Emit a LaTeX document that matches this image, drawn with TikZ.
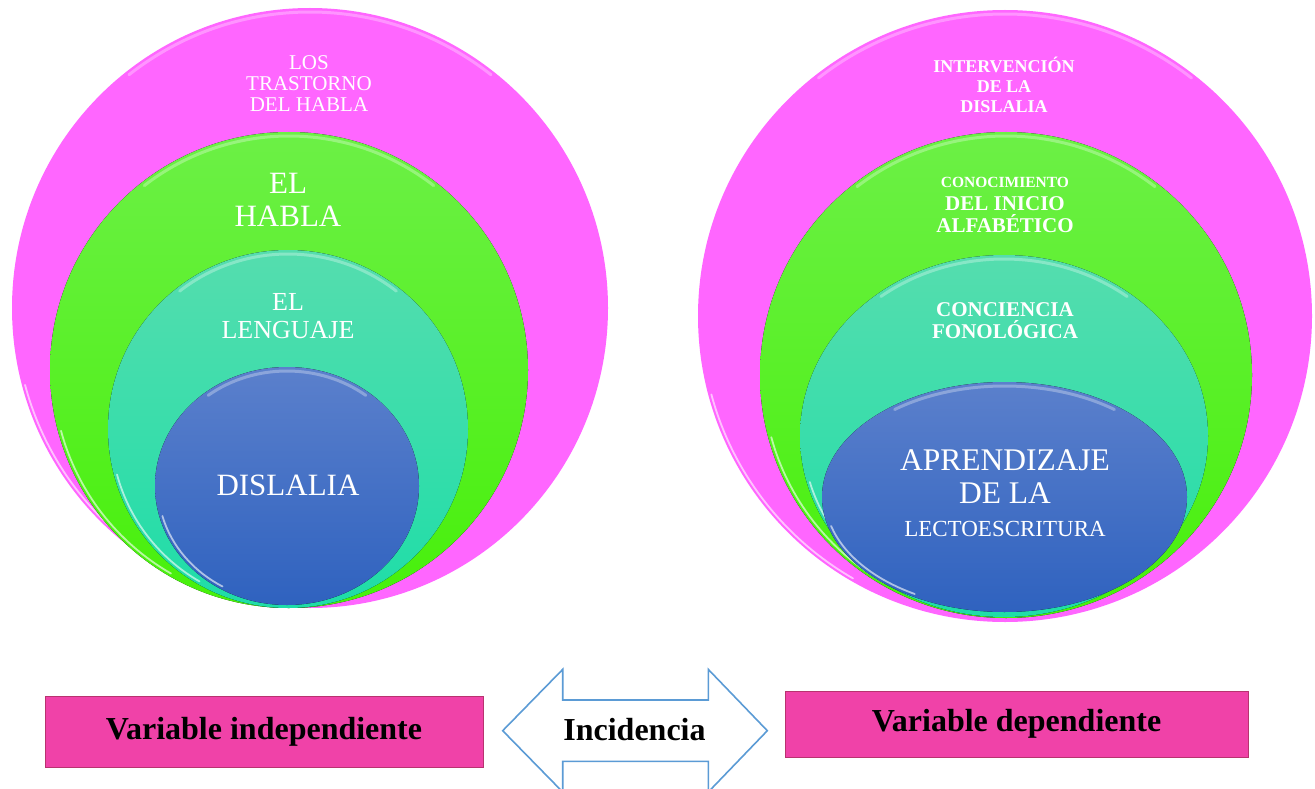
\documentclass[tikz,border=0pt]{standalone}
\usepackage{fontspec}
\setmainfont{Liberation Serif}
\usetikzlibrary{calc}
\definecolor{pinkO}{HTML}{FF66FF}
\definecolor{greenTop}{HTML}{6CF046}
\definecolor{greenBot}{HTML}{47F00A}
\definecolor{tealTop}{HTML}{55DDAE}
\definecolor{tealBot}{HTML}{1EDDA8}
\definecolor{blueTop}{HTML}{5B80CC}
\definecolor{blueBot}{HTML}{2F62BF}
\definecolor{boxFill}{HTML}{F042A8}
\definecolor{boxLine}{HTML}{B8336F}
\definecolor{arrowLine}{HTML}{5B9BD5}
\tikzset{
  pinkDisk/.style={fill=pinkO},
  greenDisk/.style={top color=greenTop, bottom color=greenBot},
  tealDisk/.style={top color=tealTop, bottom color=tealBot},
  blueDisk/.style={top color=blueTop, bottom color=blueBot},
  gloss/.style={draw=white, line width=3pt, line cap=round, opacity=0.3},
  rim/.style={draw=white, line width=1.8pt, line cap=round, opacity=0.6},
  ringLbl/.style={text=white, align=center, inner sep=0pt, anchor=base},
  varBox/.style={draw=boxLine, line width=0.8pt, fill=boxFill, inner sep=0pt,
    font=\bfseries\fontsize{32}{34}\selectfont},
  arrowShape/.style={draw=arrowLine, line width=1.6pt, fill=white, line join=miter},
}
% sheen on top and light rim at lower left of one disk
\newcommand{\Sheen}[4]{%
  \draw[gloss] ({#1+(#3-4)*cos(232)},{#2+(#4-4)*sin(232)})
    arc[start angle=232, end angle=308, x radius=#3-4, y radius=#4-4];
  \draw[rim] ({#1+(#3-3)*cos(120)},{#2+(#4-3)*sin(120)})
    arc[start angle=120, end angle=165, x radius=#3-3, y radius=#4-3];
}

\begin{document}
\begin{tikzpicture}[x=1pt, y=-1pt]
  \clip (0,0) rectangle (1315,789);
  \fill[white] (0,0) rectangle (1315,789);

  % left set of disks
  \fill[pinkDisk]  (310,308) ellipse (298 and 300);
  \Sheen{310}{308}{298}{300}
  \fill[greenDisk] (289,370) ellipse (239 and 238);
  \Sheen{289}{370}{239}{238}
  \fill[tealDisk]  (288,429) ellipse (180 and 179);
  \Sheen{288}{429}{180}{179}
  \fill[blueDisk]  (287,486) ellipse (132 and 119);
  \Sheen{287}{486}{132}{119}

  \node[ringLbl, font=\fontsize{21}{21}\selectfont] (trastorno) at (309,112) {LOS\\TRASTORNO\\DEL HABLA};
  \node[ringLbl, font=\fontsize{31}{33}\selectfont] (habla) at (288,226) {EL\\HABLA};
  \node[ringLbl, font=\fontsize{26}{28}\selectfont] (lenguaje) at (288,338) {EL\\LENGUAJE};
  \node[ringLbl, font=\fontsize{31}{33}\selectfont] (dislalia) at (288,495) {DISLALIA};

  % right set of disks
  \fill[pinkDisk]  (1005,316) ellipse (307 and 306);
  \Sheen{1005}{316}{307}{306}
  \fill[greenDisk] (1006,375) ellipse (246 and 243);
  \Sheen{1006}{375}{246}{243}
  \fill[tealDisk]  (1004,436) ellipse (204 and 181);
  \Sheen{1004}{436}{204}{181}
  \fill[blueDisk]  (1004.5,497) ellipse (182.5 and 115);
  \Sheen{1004.5}{497}{182.5}{115}

  \node[ringLbl, font=\bfseries\fontsize{18}{20}\selectfont] (intervencion) at (1004,113) {INTERVENCIÓN\\DE LA\\DISLALIA};
  \node[ringLbl, font=\bfseries\fontsize{21}{22}\selectfont] (conocimiento) at (1005,232)
    {{\fontsize{15.5}{22}\selectfont CONOCIMIENTO}\\DEL INICIO\\ALFABÉTICO};
  \node[ringLbl, font=\bfseries\fontsize{21}{22}\selectfont] (conciencia) at (1005,338) {CONCIENCIA\\FONOLÓGICA};
  \node[ringLbl, font=\fontsize{31.5}{33}\selectfont] (aprendizaje) at (1005,536)
    {APRENDIZAJE\\DE LA\\{\fontsize{23}{26}\selectfont LECTOESCRITURA}};

  % variables and the double arrow between them
  \node[varBox, minimum width=438pt, minimum height=71pt] (vInd) at (264,731.5) {Variable independiente};
  \node[varBox, minimum width=463pt, minimum height=66pt] (vDep) at (1016.5,724) {Variable dependiente};

  \coordinate (tipL) at (502.7,730.7);
  \coordinate (tipR) at (767.3,730.7);
  \draw[arrowShape] (tipL) -- (562.7,669.4) -- (562.7,700) -- (708.3,700) -- (708.3,669.4)
    -- (tipR) -- (708.3,792) -- (708.3,761.4) -- (562.7,761.4) -- (562.7,792) -- cycle;
  \node[anchor=base, inner sep=0pt, font=\bfseries\fontsize{32}{34}\selectfont] (inc) at (634.5,740.7) {Incidencia};
\end{tikzpicture}
\end{document}
